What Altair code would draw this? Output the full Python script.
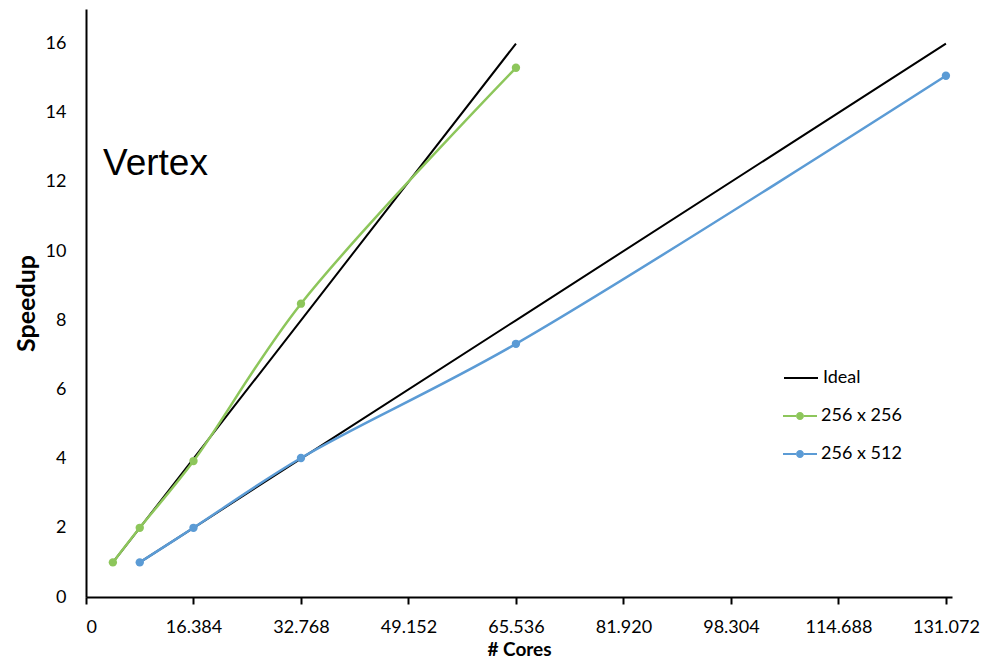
import altair as alt
import pandas as pd

# ---- data ----
cores_small = [4096, 8192, 16384, 32768, 65536]
speedup_256x256 = [1.0, 2.0, 3.93, 8.48, 15.30]
ideal_small = [1, 2, 4, 8, 16]

cores_large = [8192, 16384, 32768, 65536, 131072]
speedup_256x512 = [1.0, 2.0, 4.02, 7.32, 15.07]
ideal_large = [1, 2, 4, 8, 16]

series_names = ["256 x 256", "256 x 512"]
series_colors = ["#8dc65b", "#5b9bd5"]

x_ticks = [0, 16384, 32768, 49152, 65536, 81920, 98304, 114688, 131072]
y_ticks = [0, 2, 4, 6, 8, 10, 12, 14, 16]

annotation_text = ["Vertex"]
annotation_x = [2600]
annotation_y = [12.2]

# ---- tables ----
ideal_df = pd.DataFrame({
    "cores": cores_small + cores_large,
    "speedup": ideal_small + ideal_large,
    "run": ["a"] * len(cores_small) + ["b"] * len(cores_large),
    "label": ["Ideal"] * (len(cores_small) + len(cores_large)),
})
data_df = pd.DataFrame({
    "cores": cores_small + cores_large,
    "speedup": speedup_256x256 + speedup_256x512,
    "series": [series_names[0]] * len(cores_small) + [series_names[1]] * len(cores_large),
})
ann_df = pd.DataFrame({"text": annotation_text, "cores": annotation_x, "speedup": annotation_y})

FONT = "Lato"

x_enc = alt.X(
    "cores:Q",
    scale=alt.Scale(domain=[0, 132000], nice=False, zero=True),
    axis=alt.Axis(
        values=x_ticks,
        labelExpr="replace(format(datum.value, ','), ',', '.')",
        title="# Cores",
        grid=False,
        domainColor="black", domainWidth=2,
        tickColor="black", tickWidth=2, tickSize=7,
        labelFont=FONT, labelFontSize=18, labelColor="black", labelPadding=14,
        titleFont=FONT, titleFontSize=19, titleFontWeight="bold", titleColor="black",
        titlePadding=4,
    ),
)
y_enc = alt.Y(
    "speedup:Q",
    scale=alt.Scale(domain=[0, 17], nice=False, zero=True),
    axis=alt.Axis(
        values=y_ticks,
        title="Speedup",
        grid=False,
        domainColor="black", domainWidth=2,
        ticks=False, tickSize=0,
        labelFont=FONT, labelFontSize=18, labelColor="black", labelPadding=20,
        titleFont=FONT, titleFontSize=25, titleFontWeight="bold", titleColor="black",
        titlePadding=6,
    ),
)

ideal_layer = alt.Chart(ideal_df).mark_line(strokeWidth=2).encode(
    x=x_enc,
    y=y_enc,
    detail="run:N",
    color=alt.Color(
        "label:N",
        scale=alt.Scale(domain=["Ideal"], range=["black"]),
        legend=alt.Legend(
            title=None, orient="none", legendX=697, legendY=351,
            symbolType="stroke", symbolSize=1156, symbolStrokeWidth=2,
            labelFont=FONT, labelFontSize=18, labelColor="black", labelOffset=4,
        ),
    ),
)

legend_path = (
    "M-1,-0.065H-0.235V0.065H-1Z "
    "M0.235,-0.065H1V0.065H0.235Z "
    "M0.235,0A0.235,0.235 0 1,1 -0.235,0A0.235,0.235 0 1,1 0.235,0Z"
)

color_data = alt.Color(
    "series:N",
    scale=alt.Scale(domain=series_names, range=series_colors),
    legend=alt.Legend(
        title=None, orient="none", legendX=697, legendY=390,
        symbolType=legend_path, symbolSize=1156, symbolStrokeWidth=0,
        symbolOpacity=1, rowPadding=12,
        labelFont=FONT, labelFontSize=18, labelColor="black", labelOffset=4,
    ),
)

data_points = alt.Chart(data_df).mark_point(filled=True, size=70, opacity=1).encode(
    x=x_enc, y=y_enc, color=color_data,
)
data_line = alt.Chart(data_df).mark_line(strokeWidth=2.5, interpolate="catmull-rom").encode(
    x=x_enc, y=y_enc, detail="series:N", color=color_data,
)

data_layer = alt.layer(data_points, data_line)

annotation = alt.Chart(ann_df).mark_text(
    font="Liberation Sans", fontSize=37, align="left", baseline="alphabetic", color="black"
).encode(x=x_enc, y=y_enc, text="text:N")

chart = (
    alt.layer(ideal_layer, data_layer, annotation)
    .resolve_scale(color="independent")
    .properties(
        width=866, height=588,
        padding={"left": 78, "top": 1, "right": 28, "bottom": 63},
        autosize=alt.AutoSizeParams(type="none"),
        background="white",
    )
    .configure_view(stroke=None)
)

chart.save("out.html", embed_options={"renderer": "svg", "actions": False})
